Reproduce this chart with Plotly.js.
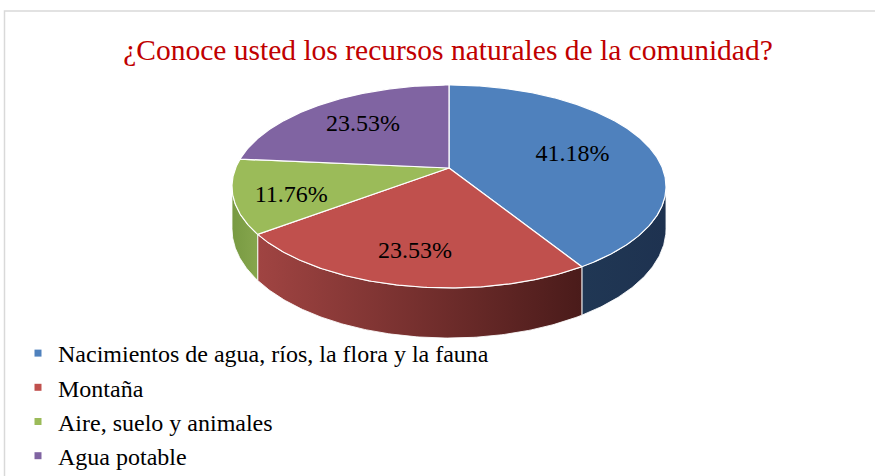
<!DOCTYPE html>
<html><head><meta charset="utf-8">
<script src="https://cdn.plot.ly/plotly-3.0.1.min.js"></script>
<style>html,body{margin:0;padding:0;background:#fff;} #chart{width:875px;height:476px;}</style>
</head><body><div id="chart"></div>
<script>
// ---- data ----
const categories = ['Nacimientos de agua, ríos, la flora y la fauna', 'Montaña', 'Aire, suelo y animales', 'Agua potable'];
const values = [41.18, 23.53, 11.76, 23.53];
const labels = values.map(v => v.toFixed(2) + '%');
const chartTitle = '¿Conoce usted los recursos naturales de la comunidad?';

// ---- style ----
const SERIF = '"Liberation Serif", "Times New Roman", Times, "DejaVu Serif", serif';
const topColors = ['#4F81BD', '#C0504D', '#9BBB59', '#8064A2'];
const sideScales = [
  [[0, '#203754'], [1, '#1E3250']],
  [[0, '#A04442'], [1, '#4A1B1A']],
  [[0, '#789A42'], [1, '#86A64D']],
  [[0, '#5E4A7A'], [1, '#5E4A7A']]
];
const labelRadius = [0.62, 0.75, 0.74, 0.65];
const labelDy = [3, 0, 7, 0];

// ---- 3D pie geometry (screen pixels) ----
const CX = 449, CY = 168, A = 213.4, B = 98.1, P = 0.182, H = 41;
function proj(theta, f, down) {
  const t = f * Math.cos(theta);
  const s = 1 / (1 + P * t);
  return [CX + A * f * Math.sin(theta) * s, CY + ((down ? H : 0) - B * t) * s];
}
const total = values.reduce((a, b) => a + b, 0);
const bounds = [];
let acc = 0;
values.forEach(v => { const a = acc / total * 2 * Math.PI; acc += v; bounds.push([a, acc / total * 2 * Math.PI]); });

const visA = Math.acos(-P), visB = 2 * Math.PI - Math.acos(-P);
const traces = [];

// side walls
bounds.forEach((b, i) => {
  const a0 = Math.max(b[0], visA), a1 = Math.min(b[1], visB);
  if (a1 <= a0) return;
  const xs = [], ys = [];
  const n = Math.max(4, Math.ceil((a1 - a0) / 0.01));
  for (let k = 0; k <= n; k++) { const th = a0 + (a1 - a0) * k / n; const p = proj(th, 1, false); xs.push(p[0]); ys.push(p[1]); }
  for (let k = n; k >= 0; k--) { const th = a0 + (a1 - a0) * k / n; const p = proj(th, 1, true); xs.push(p[0]); ys.push(p[1]); }
  xs.push(xs[0]); ys.push(ys[0]);
  traces.push({
    type: 'scatter', mode: 'lines', x: xs, y: ys, fill: 'toself',
    fillgradient: { type: 'horizontal', colorscale: sideScales[i] },
    line: { color: 'rgba(255,255,255,0.85)', width: 1 },
    showlegend: false, hoverinfo: 'skip'
  });
});

// top faces
bounds.forEach((b, i) => {
  const xs = [CX], ys = [CY];
  const n = Math.max(4, Math.ceil((b[1] - b[0]) / 0.01));
  for (let k = 0; k <= n; k++) { const th = b[0] + (b[1] - b[0]) * k / n; const p = proj(th, 1, false); xs.push(p[0]); ys.push(p[1]); }
  xs.push(CX); ys.push(CY);
  traces.push({
    type: 'scatter', mode: 'lines', x: xs, y: ys, fill: 'toself', fillcolor: topColors[i],
    line: { color: '#FFFFFF', width: 1.2 }, showlegend: false, hoverinfo: 'skip'
  });
});

// labels
const lx = [], ly = [];
bounds.forEach((b, i) => { const p = proj((b[0] + b[1]) / 2, labelRadius[i], false); lx.push(p[0]); ly.push(p[1] + labelDy[i]); });
traces.push({
  type: 'scatter', mode: 'text', x: lx, y: ly, text: labels, textposition: 'middle center',
  textfont: { family: SERIF, size: 24, color: '#000000' },
  showlegend: false, hoverinfo: 'skip'
});

// legend entries
categories.forEach((c, i) => {
  traces.push({
    type: 'scatter', mode: 'markers', x: [null], y: [null], name: c,
    marker: { symbol: 'square', size: 7, color: topColors[i] }
  });
});

const layout = {
  width: 875, height: 476,
  margin: { l: 0, r: 0, t: 0, b: 0, autoexpand: false },
  paper_bgcolor: '#FFFFFF', plot_bgcolor: '#FFFFFF',
  xaxis: { range: [0, 875], visible: false, fixedrange: true },
  yaxis: { range: [476, 0], visible: false, fixedrange: true },
  hovermode: false,
  title: {
    text: chartTitle, x: 448 / 875, xanchor: 'center', y: 1 - 50 / 476, yanchor: 'middle',
    font: { family: SERIF, size: 29.5, color: '#C00000' }
  },
  showlegend: true,
  legend: {
    xref: 'container', yref: 'container',
    x: 18 / 875, xanchor: 'left', y: 1 - 331 / 476, yanchor: 'top',
    font: { family: SERIF, size: 24, color: '#000000' },
    bgcolor: 'rgba(0,0,0,0)'
  },
  shapes: [{
    type: 'rect', xref: 'x', yref: 'y', x0: 4.5, x1: 900, y0: 11, y1: 520,
    line: { color: '#D9D9D9', width: 1.5 }, layer: 'below'
  }]
};
Plotly.newPlot('chart', traces, layout, { displayModeBar: false, staticPlot: true });
</script>
</body></html>
